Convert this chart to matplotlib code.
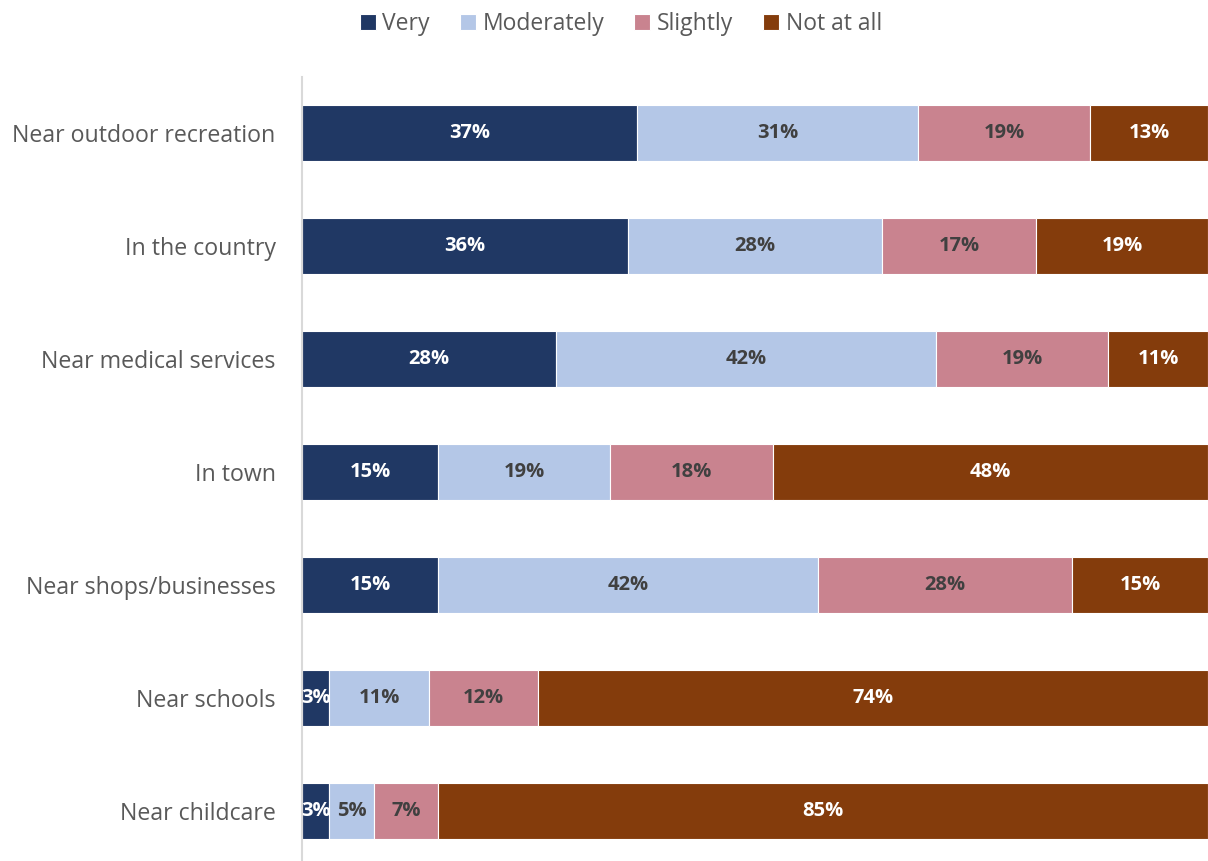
import numpy as np
import matplotlib.pyplot as plt

plt.rcParams['font.family'] = ['Open Sans', 'DejaVu Sans']

categories = ['Near outdoor recreation', 'In the country', 'Near medical services',
              'In town', 'Near shops/businesses', 'Near schools', 'Near childcare']
series_names = ['Very', 'Moderately', 'Slightly', 'Not at all']
very = [37, 36, 28, 15, 15, 3, 3]
moderately = [31, 28, 42, 19, 42, 11, 5]
slightly = [19, 17, 19, 18, 28, 12, 7]
not_at_all = [13, 19, 11, 48, 15, 74, 85]

colors = ['#203864', '#B4C7E7', '#C9838F', '#843C0C']
label_colors = ['white', '#404040', '#404040', 'white']

fig = plt.figure(figsize=(12.08, 8.61), dpi=100)
ax = fig.add_axes([0.25, 0.0, 0.75, 0.9111])

y = np.arange(len(categories))
left = np.zeros(len(categories))
for name, vals, col, tcol in zip(series_names, [very, moderately, slightly, not_at_all],
                                 colors, label_colors):
    vals = np.array(vals, dtype=float)
    ax.barh(y, vals, left=left, height=0.5, color=col, edgecolor='white',
            linewidth=0.8, label=name)
    for xi, yi, v in zip(left, y, vals):
        ax.text(xi + v / 2, yi, f'{int(v)}%', ha='center', va='center',
                color=tcol, fontsize=14.5, fontweight='bold', clip_on=False)
    left += vals

ax.set_xlim(0, 100)
ax.set_ylim(6.4425, -0.5)
ax.set_yticks(y)
ax.set_yticklabels(categories, fontsize=16.7, color='#595959')
ax.tick_params(axis='y', length=0, pad=19)
ax.set_xticks([])
for s in ['top', 'right', 'bottom']:
    ax.spines[s].set_visible(False)
ax.spines['left'].set_color('#D9D9D9')
ax.spines['left'].set_linewidth(1.5)

fig.legend(loc='upper center', bbox_to_anchor=(0.514, 1.01), ncol=4, frameon=False,
           fontsize=16.5, handlelength=0.7, handleheight=0.7, handletextpad=0.3,
           columnspacing=1.3, labelcolor='#595959')

fig.savefig('out.png', dpi=100)
